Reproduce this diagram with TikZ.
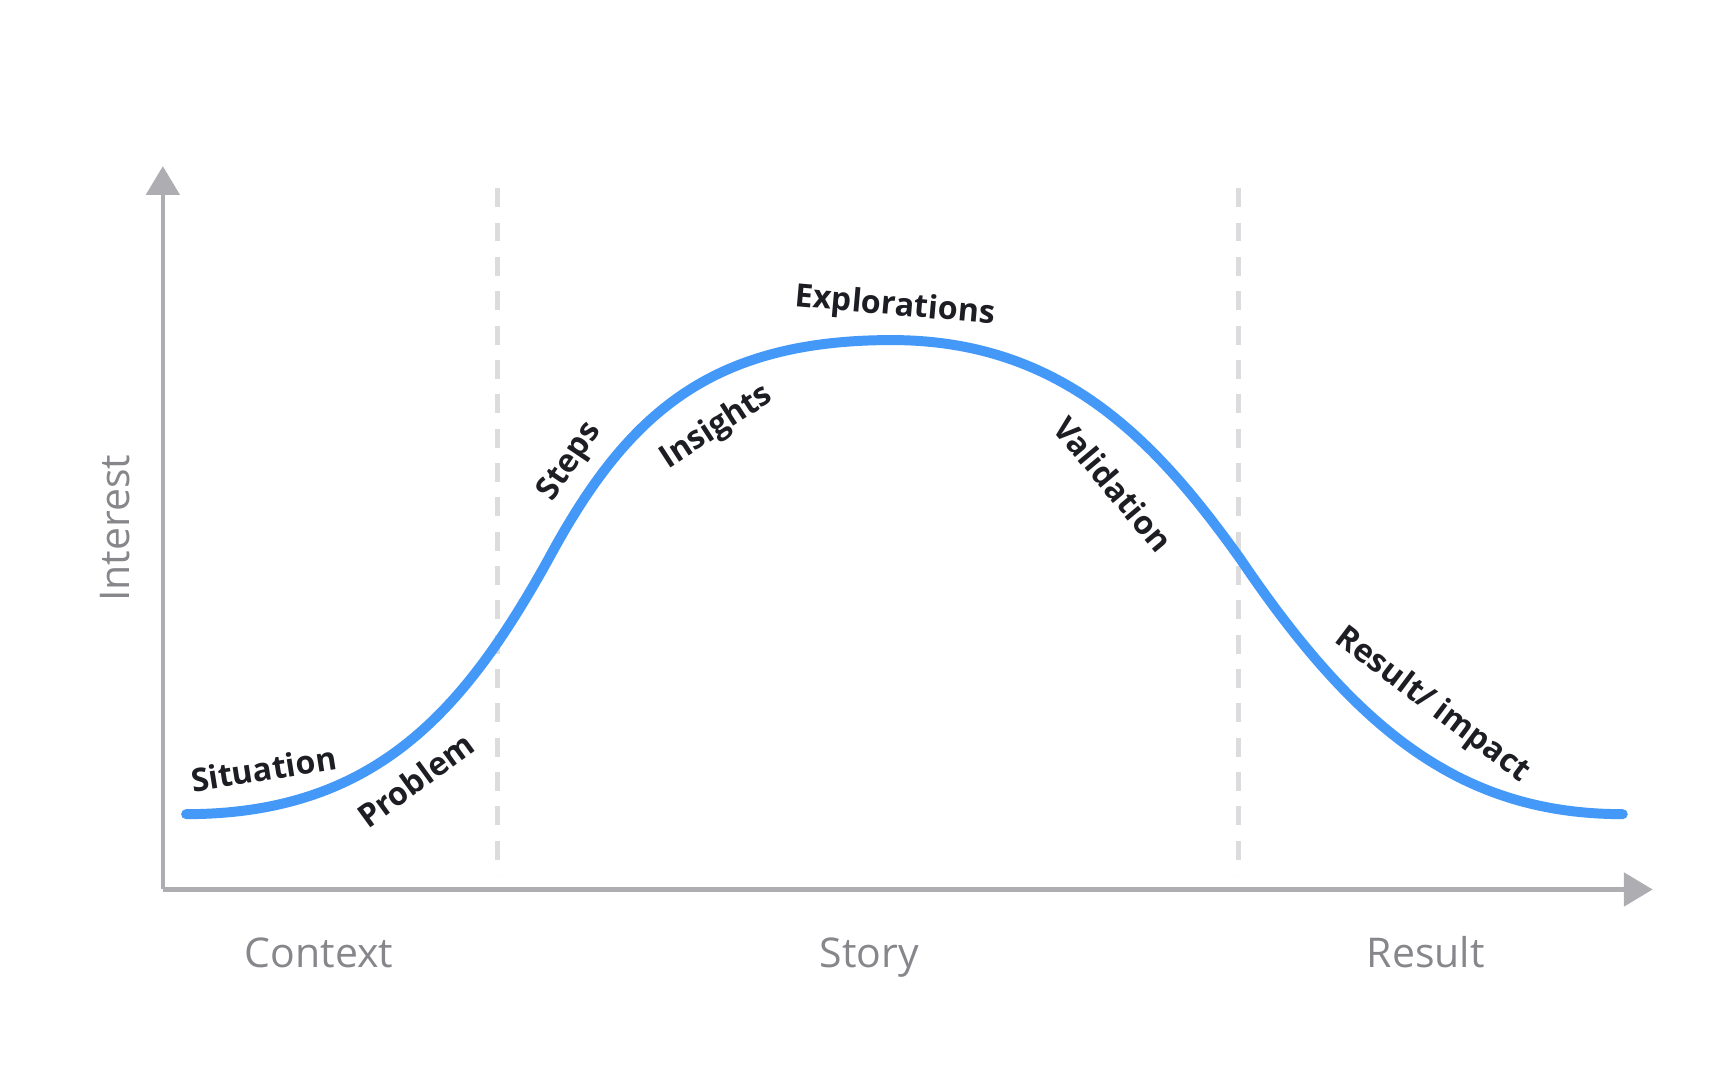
\documentclass[tikz,border=0pt]{standalone}
\usepackage{fontspec}
\setmainfont{Open Sans}
\usetikzlibrary{arrows.meta}
\definecolor{axisgray}{HTML}{ADADB2}
\definecolor{dashgray}{HTML}{DCDCDE}
\definecolor{curveblue}{HTML}{4499F8}
\definecolor{labgray}{HTML}{86868B}
\definecolor{ink}{HTML}{1D1D24}
\tikzset{
  axisline/.style={draw=axisgray,line width=4pt,-{Triangle[length=26pt,width=30pt]}},
  divider/.style={draw=dashgray,line width=4pt,dash pattern=on 17pt off 14pt},
  curvelab/.style={font=\fontsize{29}{32}\selectfont\bfseries,text=ink,inner sep=0pt},
  axislab/.style={font=\fontsize{37}{40}\selectfont,text=labgray,anchor=base},
}
\begin{document}
\begin{tikzpicture}[x=1pt,y=-1pt]
\useasboundingbox (0,0) rectangle (1560,975);
\coordinate (o) at (147,803);
\coordinate (ytop) at (147,150);
\coordinate (xend) at (1492,803);
\draw[axisline] (o) -- (ytop);
\draw[axisline] (o) -- (xend);
\coordinate (d1t) at (449,170); \coordinate (d1b) at (449,790);
\coordinate (d2t) at (1118,170); \coordinate (d2b) at (1118,790);
\draw[divider] (d1t) -- (d1b);
\draw[divider] (d2t) -- (d2b);
\coordinate (c0) at (168,735);
\coordinate (c1) at (495,505);
\coordinate (c2) at (805,307);
\coordinate (c3) at (1120,505);
\coordinate (c4) at (1465,735);
\draw[curveblue,line width=9pt,line cap=round]
 (c0) .. controls (340,735) and (420,640) .. (c1)
      .. controls (565,375) and (640,307) .. (c2)
      .. controls (960,307) and (1045,400) .. (c3)
      .. controls (1225,660) and (1320,735) .. (c4);
\node[curvelab,rotate=9] (sit) at (238,694) {Situation};
\node[curvelab,rotate=36] (prob) at (375,704) {Problem};
\node[curvelab,rotate=56] (steps) at (515,417) {Steps};
\node[curvelab,rotate=33] (ins) at (647,386) {Insights};
\node[curvelab,rotate=-5] (expl) at (808,277) {Explorations};
\node[curvelab,rotate=-50] (val) at (1005,437) {Validation};
\node[curvelab,rotate=-37] (res) at (1293,637) {Result/ impact};
\node[font=\fontsize{37}{40}\selectfont,text=labgray,rotate=90] (int) at (104,477) {Interest};
\node[axislab] (ctx) at (288,873) {Context};
\node[axislab] (sto) at (785,873) {Story};
\node[axislab] (rsl) at (1287,873) {Result};
\end{tikzpicture}
\end{document}
